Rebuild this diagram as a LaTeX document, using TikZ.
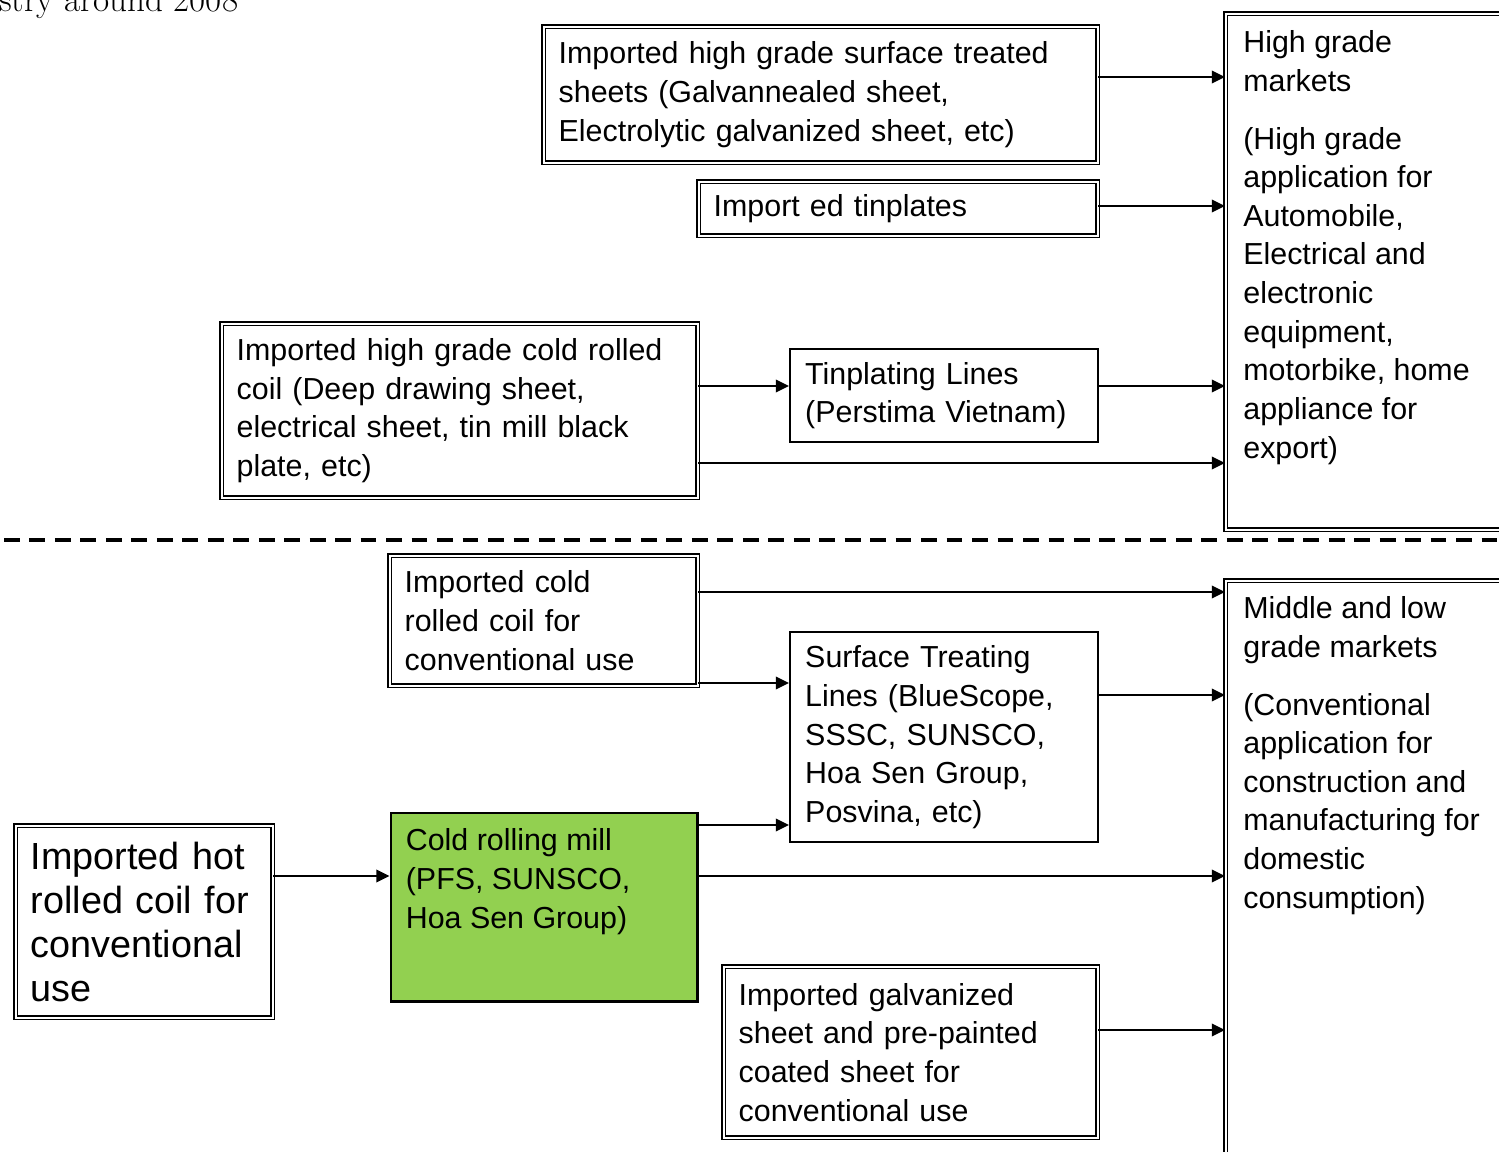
\documentclass[tikz,border=0pt]{standalone}
\usepackage{fontspec}
\setsansfont{Liberation Sans}
\usetikzlibrary{arrows.meta}
\definecolor{millgreen}{HTML}{92D050}

\begin{document}
\begin{tikzpicture}[x=0.02cm, y=-0.02cm, >={Triangle[length=7.5pt,width=7pt]},
  every node/.style={font=\sffamily\fontsize{17.3pt}{22pt}\selectfont},
  dbox/.style={draw, double, line width=0.8pt, double distance=1.1pt, anchor=north west, align=left, inner xsep=0.3cm, inner ysep=0pt},
  sbox/.style={draw, line width=1.4pt, anchor=north west, align=left, inner xsep=0.3cm, inner ysep=0pt},
  tlabel/.style={anchor=north west, align=left, inner sep=0pt},
  flow/.style={->, line width=1.5pt}]
\useasboundingbox (0,0) rectangle (1499,1152);

\node[anchor=base west, inner sep=0pt, font=\rmfamily\fontsize{20pt}{24pt}\selectfont] (cap) at (-1,12) {stry around 2008};

% high grade part
\node[dbox, minimum width=11.08cm, minimum height=2.72cm, text width=10.48cm] (surf) at (543,26) {Imported high grade surface treated\\sheets (Galvannealed sheet,\\Electrolytic galvanized sheet, etc)};
\node[dbox, minimum width=7.98cm, minimum height=1.08cm, text width=7.38cm] (tin) at (698,181) {Import ed tinplates};
\node[dbox, minimum width=9.52cm, minimum height=3.48cm, text width=8.92cm] (hgcr) at (221,323) {Imported high grade cold rolled\\coil (Deep drawing sheet,\\electrical sheet, tin mill black\\plate, etc)};
\node[sbox, minimum width=6.16cm, minimum height=1.86cm, text width=5.56cm] (tinline) at (789,348) {Tinplating Lines\\(Perstima Vietnam)};
\node[dbox, minimum width=6cm, minimum height=10.32cm] (high) at (1225,13) {};
\node[tlabel] (hightxt) at ([shift={(18,17)}]high.north west) {High grade\\markets\\[11pt](High grade\\application for\\Automobile,\\Electrical and\\electronic\\equipment,\\motorbike, home\\appliance for\\export)};

\draw[dashed, line width=2pt, dash pattern=on 9pt off 5.5pt] (4,540) -- (1499,540);

% middle and low grade part
\node[dbox, minimum width=6.16cm, minimum height=2.6cm, text width=5.56cm] (cr) at (389,555) {Imported cold\\rolled coil for\\conventional use};
\node[sbox, minimum width=6.16cm, minimum height=4.2cm, text width=5.56cm] (stline) at (789,631) {Surface Treating\\Lines (BlueScope,\\SSSC, SUNSCO,\\Hoa Sen Group,\\Posvina, etc)};
\node[dbox, minimum width=6cm, minimum height=12cm] (mid) at (1225,580) {};
\node[tlabel] (midtxt) at ([shift={(18,16)}]mid.north west) {Middle and low\\grade markets\\[11pt](Conventional\\application for\\construction and\\manufacturing for\\domestic\\consumption)};
\node[dbox, minimum width=5.14cm, minimum height=3.84cm, text width=4.54cm, font=\sffamily\fontsize{21.5pt}{25pt}\selectfont] (hr) at (15,825) {Imported hot\\rolled coil for\\conventional\\use};
\node[draw, line width=1.7pt, fill=millgreen, anchor=north west, minimum width=6.14cm, minimum height=3.78cm] (crmill) at (389.5,811.5) {};
\node[tlabel] (crmilltxt) at ([shift={(16,17)}]crmill.north west) {Cold rolling mill\\(PFS, SUNSCO,\\Hoa Sen Group)};
\node[dbox, minimum width=7.48cm, minimum height=3.42cm, text width=6.88cm] (galv) at (723,966) {Imported galvanized\\sheet and pre-painted\\coated sheet for\\conventional use};

\draw[flow] (surf.east |- 0,77) -- (high.west |- 0,77);
\draw[flow] (tin.east |- 0,206) -- (high.west |- 0,206);
\draw[flow] (hgcr.east |- 0,386) -- (tinline.west |- 0,386);
\draw[flow] (tinline.east |- 0,386) -- (high.west |- 0,386);
\draw[flow] (hgcr.east |- 0,463) -- (high.west |- 0,463);
\draw[flow] (cr.east |- 0,592) -- (mid.west |- 0,592);
\draw[flow] (cr.east |- 0,683) -- (stline.west |- 0,683);
\draw[flow] (stline.east |- 0,695) -- (mid.west |- 0,695);
\draw[flow] (crmill.east |- 0,825) -- (stline.west |- 0,825);
\draw[flow] (crmill.east |- 0,876) -- (mid.west |- 0,876);
\draw[flow] (hr.east |- 0,876) -- (crmill.west |- 0,876);
\draw[flow] (galv.east |- 0,1030) -- (mid.west |- 0,1030);
\end{tikzpicture}
\end{document}
